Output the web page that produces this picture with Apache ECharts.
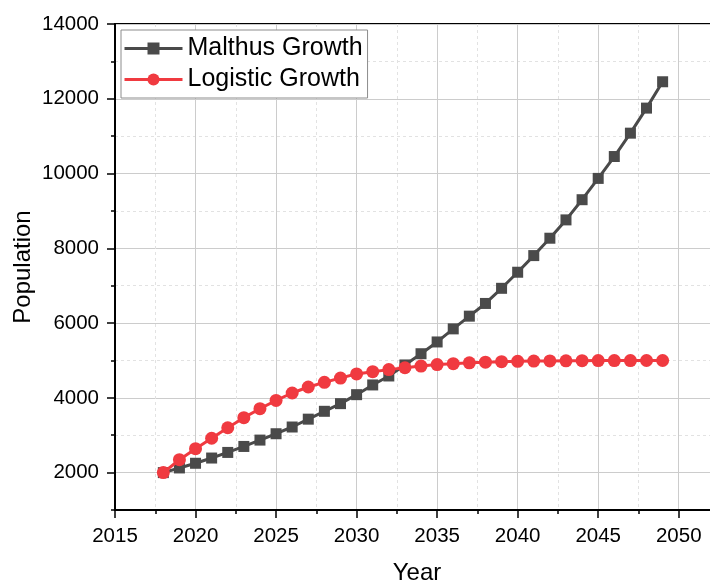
<!DOCTYPE html>
<html>
<head>
<meta charset="utf-8">
<script src="https://cdn.jsdelivr.net/npm/echarts@6/dist/echarts.min.js"></script>
<style>
  html, body { margin: 0; padding: 0; background: #fff; }
  #chart { width: 710px; height: 584px; }
</style>
</head>
<body>
<div id="chart"></div>
<script>
// Population projections, one value per year
const years = [2018, 2019, 2020, 2021, 2022, 2023, 2024, 2025, 2026, 2027, 2028,
  2029, 2030, 2031, 2032, 2033, 2034, 2035, 2036, 2037, 2038, 2039, 2040, 2041,
  2042, 2043, 2044, 2045, 2046, 2047, 2048, 2049];
const malthus = [2000, 2125, 2250, 2390, 2540, 2700, 2870, 3040, 3220, 3430, 3640,
  3845, 4085, 4345, 4585, 4880, 5180, 5495, 5845, 6185, 6525, 6930, 7360, 7805,
  8270, 8760, 9300, 9870, 10455, 11080, 11750, 12455];
const logistic = [2000, 2345, 2640, 2920, 3200, 3470, 3710, 3930, 4130, 4290, 4415,
  4530, 4640, 4700, 4755, 4805, 4850, 4890, 4915, 4938, 4955, 4968, 4977, 4983,
  4988, 4991, 4994, 4996, 4997, 4998, 4999, 4999];

// Axis ticks
const xMajorTicks = [2015, 2020, 2025, 2030, 2035, 2040, 2045, 2050];
const xMinorTicks = [2017.5, 2022.5, 2027.5, 2032.5, 2037.5, 2042.5, 2047.5, 2052.5];
const yMajorTicks = [2000, 4000, 6000, 8000, 10000, 12000, 14000];
const yMinorTicks = [1000, 3000, 5000, 7000, 9000, 11000, 13000];

const seriesNames = ['Malthus Growth', 'Logistic Growth'];

const FONT = 'Arial, "Liberation Sans", sans-serif';
const X_MIN = 2015, X_MAX = 2052.5, Y_MIN = 1000, Y_MAX = 14000;

const pairs = vals => years.map((y, i) => [y, vals[i]]);
const plain = v => String(v);

const majorAxisStyle = {
  axisLine: { show: true, onZero: false, lineStyle: { color: '#000', width: 2 } },
  axisTick: { show: true, inside: false, length: 8, lineStyle: { color: '#000', width: 1.5 } },
  splitLine: { show: true, lineStyle: { color: '#cccccc', width: 1, type: 'solid' } }
};
const minorAxisStyle = {
  axisLine: { show: false },
  axisLabel: { show: false },
  axisTick: { show: true, inside: false, length: 4, lineStyle: { color: '#000', width: 1.5 } },
  splitLine: { show: true, lineStyle: { color: '#e2e2e2', width: 1, type: [3, 3] } }
};

const chart = echarts.init(document.getElementById('chart'), null, { renderer: 'canvas' });
chart.setOption({
  animation: false,
  backgroundColor: '#fff',
  textStyle: { fontFamily: FONT },
  grid: {
    left: 115, top: 24, width: 604, height: 486,
    containLabel: false, outerBoundsMode: 'none',
    show: true, borderColor: '#000', borderWidth: 2, backgroundColor: 'transparent'
  },
  legend: {
    left: 121, top: 30, orient: 'vertical',
    data: seriesNames,
    itemWidth: 58, itemHeight: 15, itemGap: 6,
    padding: [6, 5, 6, 2],
    lineStyle: { width: 3 },
    borderColor: '#8c8c8c', borderWidth: 1, backgroundColor: '#fff',
    textStyle: { fontFamily: FONT, fontSize: 25, color: '#000' }
  },
  xAxis: [
    Object.assign({
      type: 'value', position: 'bottom', min: X_MIN, max: X_MAX,
      name: 'Year', nameLocation: 'middle', nameGap: 51, nameMoveOverlap: false,
      nameTextStyle: { fontFamily: FONT, fontSize: 24, color: '#000' },
      axisLabel: { customValues: xMajorTicks, formatter: plain, fontFamily: FONT, fontSize: 20.5, color: '#000', margin: 16 }
    }, majorAxisStyle, {
      axisTick: Object.assign({ customValues: xMajorTicks }, majorAxisStyle.axisTick)
    }),
    Object.assign({ type: 'value', position: 'bottom', min: X_MIN, max: X_MAX }, minorAxisStyle, {
      axisTick: Object.assign({ customValues: xMinorTicks }, minorAxisStyle.axisTick)
    })
  ],
  yAxis: [
    Object.assign({
      type: 'value', position: 'left', min: Y_MIN, max: Y_MAX,
      name: 'Population', nameLocation: 'middle', nameGap: 80, nameMoveOverlap: false,
      nameTextStyle: { fontFamily: FONT, fontSize: 24, color: '#000' },
      axisLabel: { customValues: yMajorTicks, formatter: plain, fontFamily: FONT, fontSize: 20.5, color: '#000', margin: 16 }
    }, majorAxisStyle, {
      axisTick: Object.assign({ customValues: yMajorTicks }, majorAxisStyle.axisTick)
    }),
    Object.assign({ type: 'value', position: 'left', min: Y_MIN, max: Y_MAX }, minorAxisStyle, {
      axisTick: Object.assign({ customValues: yMinorTicks }, minorAxisStyle.axisTick)
    })
  ],
  series: [
    {
      name: seriesNames[0], type: 'line', xAxisIndex: 0, yAxisIndex: 0,
      data: pairs(malthus),
      symbol: 'rect', symbolSize: 11,
      lineStyle: { color: '#4a4a4a', width: 3 },
      itemStyle: { color: '#4a4a4a' },
      z: 3
    },
    {
      name: seriesNames[1], type: 'line', xAxisIndex: 0, yAxisIndex: 0,
      data: pairs(logistic),
      symbol: 'circle', symbolSize: 13,
      lineStyle: { color: '#f03a40', width: 3 },
      itemStyle: { color: '#f03a40' },
      z: 4
    }
  ]
});
</script>
</body>
</html>
